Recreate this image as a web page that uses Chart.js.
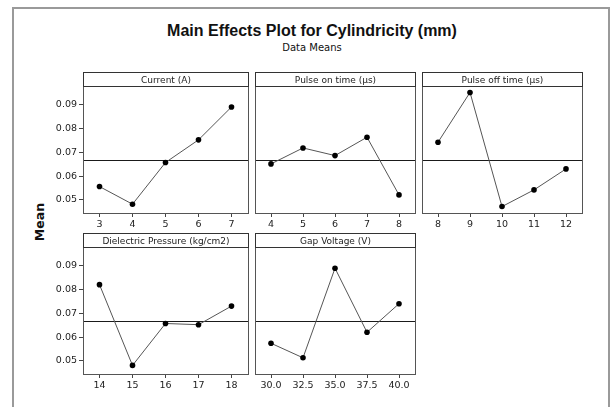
<!DOCTYPE html>
<html>
<head>
<meta charset="utf-8">
<script src="https://cdn.jsdelivr.net/npm/chart.js@4.4.1/dist/chart.umd.min.js"></script>
<style>
  html, body { margin: 0; padding: 0; background: #fff; }
  #page { position: relative; width: 614px; height: 407px; overflow: hidden; background: #fff; }
  #frame { position: absolute; left: 12px; top: 7px; width: 594px; height: 420px; border: 2px solid #9a9a9a; }
  #title { position: absolute; left: 12px; width: 600px; top: 22px; text-align: center;
           font: bold 16px/18px 'Liberation Sans', Arial, sans-serif; color: #111; }
  #subtitle { position: absolute; left: 12px; width: 600px; top: 42px; text-align: center;
              font: 10px/12px 'DejaVu Sans', sans-serif; color: #111; }
  #ylabel { position: absolute; left: 10px; top: 214px; width: 60px; text-align: center;
            font: bold 12.5px/16px 'DejaVu Sans', sans-serif; color: #111;
            transform: rotate(-90deg); }
  canvas { position: absolute; }
</style>
</head>
<body>
<div id="page">
  <div id="frame"></div>
  <div id="title">Main Effects Plot for Cylindricity (mm)</div>
  <div id="subtitle">Data Means</div>
  <div id="ylabel">Mean</div>
</div>
<script>
// valeurs (moyennes de cylindricité par niveau)
const currentLevels = ['3', '4', '5', '6', '7'];
const currentMeans = [0.0556, 0.0482, 0.0657, 0.0752, 0.0890];

const pulseOnLevels = ['4', '5', '6', '7', '8'];
const pulseOnMeans = [0.0651, 0.0718, 0.0686, 0.0763, 0.0521];

const pulseOffLevels = ['8', '9', '10', '11', '12'];
const pulseOffMeans = [0.0742, 0.0951, 0.0472, 0.0542, 0.0630];

const pressureLevels = ['14', '15', '16', '17', '18'];
const pressureMeans = [0.0820, 0.0481, 0.0657, 0.0652, 0.0730];

const gapLevels = ['30.0', '32.5', '35.0', '37.5', '40.0'];
const gapMeans = [0.0574, 0.0513, 0.0889, 0.0620, 0.0740];

const grandMean = 0.0667;
const yTicks = [0.05, 0.06, 0.07, 0.08, 0.09];

const FONT = "'DejaVu Sans', sans-serif";
const HEADER_H = 14;
const PLOT_H = 127;
const XAXIS_H = 19;
const YAXIS_W = 53;

// cadre du panneau + bandeau du titre + ligne de moyenne
const panelPlugin = {
    id: 'panelFrame',
    beforeDatasetsDraw(chart) {
        const { ctx, chartArea: a } = chart;
        const y = Math.round(chart.scales.y.getPixelForValue(grandMean)) + 0.5;
        ctx.save();
        ctx.strokeStyle = '#1a1a1a';
        ctx.lineWidth = 1;
        ctx.beginPath();
        ctx.moveTo(a.left, y);
        ctx.lineTo(a.right, y);
        ctx.stroke();
        ctx.restore();
    },
    afterDraw(chart, args, opts) {
        const { ctx, chartArea: a } = chart;
        const l = Math.round(a.left) + 0.5;
        const r = Math.round(a.right) + 0.5;
        const t = Math.round(a.top) + 0.5;
        const b = Math.round(a.bottom) + 0.5;
        ctx.save();
        ctx.lineWidth = 1;
        ctx.strokeStyle = '#555';
        ctx.strokeRect(l, t, r - l, b - t);
        ctx.strokeStyle = '#333';
        ctx.strokeRect(l, 0.5, r - l, t - 0.5);
        ctx.fillStyle = '#222';
        ctx.font = '9px ' + FONT;
        ctx.textAlign = 'center';
        ctx.textBaseline = 'middle';
        ctx.fillText(opts.title, (l + r) / 2, t / 2 + 1);
        ctx.restore();
    }
};

function makePanel(title, levels, means, left, top, width, showY) {
    const canvas = document.createElement('canvas');
    const extra = showY ? YAXIS_W : 0;
    canvas.width = width + extra + 1;
    canvas.height = HEADER_H + PLOT_H + XAXIS_H;
    canvas.style.left = (left - extra) + 'px';
    canvas.style.top = top + 'px';
    document.getElementById('page').appendChild(canvas);

    new Chart(canvas.getContext('2d'), {
        type: 'line',
        data: {
            labels: levels,
            datasets: [{
                data: means,
                borderColor: '#555',
                borderWidth: 1,
                pointRadius: 2.8,
                pointBackgroundColor: '#000',
                pointBorderColor: '#000',
                pointBorderWidth: 0,
                tension: 0
            }]
        },
        options: {
            responsive: false,
            animation: false,
            devicePixelRatio: 1,
            layout: { padding: { top: HEADER_H, right: 1, left: 0, bottom: 0 } },
            plugins: {
                legend: { display: false },
                tooltip: { enabled: false },
                panelFrame: { title: title }
            },
            scales: {
                x: {
                    type: 'category',
                    offset: true,
                    grid: { display: true, offset: false, drawOnChartArea: false, drawTicks: true, tickLength: 4, color: '#444' },
                    border: { display: false },
                    ticks: { font: { family: FONT, size: 9.5 }, color: '#222', padding: 2, maxRotation: 0, autoSkip: false },
                    afterFit: s => { s.height = XAXIS_H; }
                },
                y: {
                    display: showY,
                    min: 0.0445,
                    max: 0.0978,
                    afterBuildTicks: s => { s.ticks = yTicks.map(v => ({ value: v })); },
                    grid: { display: true, drawOnChartArea: false, drawTicks: true, tickLength: 4, color: '#444' },
                    border: { display: false },
                    ticks: { font: { family: FONT, size: 9.5 }, color: '#222', padding: 2, callback: v => v.toFixed(2) },
                    afterFit: s => { s.width = showY ? YAXIS_W : 0; }
                }
            }
        },
        plugins: [panelPlugin]
    });
}

// rangée du haut
makePanel('Current (A)', currentLevels, currentMeans, 83, 72, 168, true);
makePanel('Pulse on time (\u00b5s)', pulseOnLevels, pulseOnMeans, 251, 72, 167, false);
makePanel('Pulse off time (\u00b5s)', pulseOffLevels, pulseOffMeans, 418, 72, 167, false);
// rangée du bas
makePanel('Dielectric Pressure (kg/cm2)', pressureLevels, pressureMeans, 83, 233, 168, true);
makePanel('Gap Voltage (V)', gapLevels, gapMeans, 251, 233, 167, false);
</script>
</body>
</html>
